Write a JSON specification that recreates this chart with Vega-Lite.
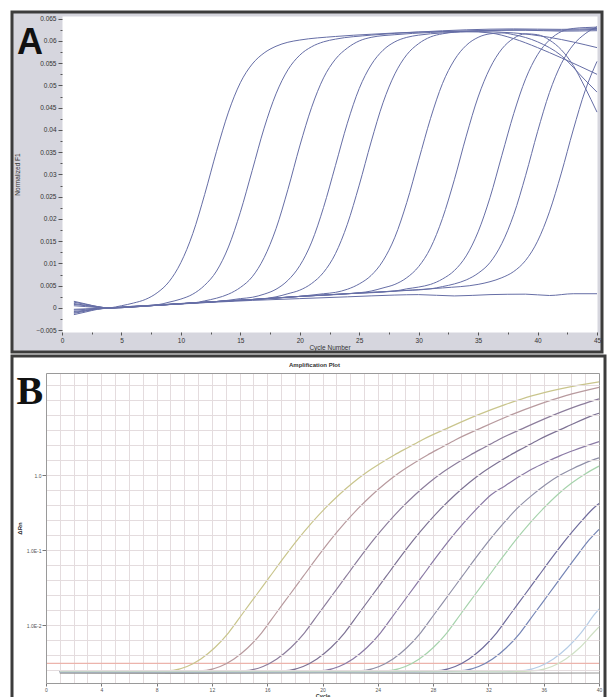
{
"$schema": "https://vega.github.io/schema/vega-lite/v6.json",
"padding": {"left": 10, "top": 10, "right": 0, "bottom": 0},
"background": "white",
"config": {"font": "Liberation Sans", "view": {"stroke": null}, "concat": {"spacing": 0}},
"datasets": {
"a": [
{"s":"1","c":1,"v":-0.0012},{"s":"1","c":2,"v":-0.0007},{"s":"1","c":3,"v":-0.0002},{"s":"1","c":4,"v":0},{"s":"1","c":5,"v":0.0005},{"s":"1","c":6,"v":0.0011},{"s":"1","c":7,"v":0.0019},{"s":"1","c":8,"v":0.0034},{"s":"1","c":9,"v":0.0059},{"s":"1","c":10,"v":0.0102},{"s":"1","c":11,"v":0.0167},{"s":"1","c":12,"v":0.0255},{"s":"1","c":13,"v":0.0352},{"s":"1","c":14,"v":0.044},{"s":"1","c":15,"v":0.0506},{"s":"1","c":16,"v":0.0548},{"s":"1","c":17,"v":0.0573},{"s":"1","c":18,"v":0.0588},{"s":"1","c":19,"v":0.0597},{"s":"1","c":20,"v":0.0602},{"s":"1","c":23,"v":0.061},{"s":"1","c":26,"v":0.0615},{"s":"1","c":30,"v":0.062},{"s":"1","c":34,"v":0.0622},{"s":"1","c":38,"v":0.0625},{"s":"1","c":42,"v":0.0624},{"s":"1","c":45,"v":0.0626},
{"s":"2","c":1,"v":0.001},{"s":"2","c":2,"v":0.0006},{"s":"2","c":3,"v":0.0002},{"s":"2","c":4,"v":0},{"s":"2","c":6,"v":0.0004},{"s":"2","c":8,"v":0.0007},{"s":"2","c":9,"v":0.0013},{"s":"2","c":10,"v":0.002},{"s":"2","c":11,"v":0.0031},{"s":"2","c":12,"v":0.0051},{"s":"2","c":13,"v":0.0083},{"s":"2","c":14,"v":0.0137},{"s":"2","c":15,"v":0.0215},{"s":"2","c":16,"v":0.0309},{"s":"2","c":17,"v":0.0404},{"s":"2","c":18,"v":0.0481},{"s":"2","c":19,"v":0.0535},{"s":"2","c":20,"v":0.0568},{"s":"2","c":21,"v":0.0587},{"s":"2","c":22,"v":0.0598},{"s":"2","c":23,"v":0.0604},{"s":"2","c":26,"v":0.0613},{"s":"2","c":30,"v":0.062},{"s":"2","c":34,"v":0.0625},{"s":"2","c":38,"v":0.0627},{"s":"2","c":42,"v":0.0626},{"s":"2","c":45,"v":0.0628},
{"s":"3","c":1,"v":-0.0005},{"s":"3","c":2,"v":-0.0003},{"s":"3","c":3,"v":-0.0001},{"s":"3","c":4,"v":0},{"s":"3","c":6,"v":0.0003},{"s":"3","c":9,"v":0.0008},{"s":"3","c":11,"v":0.0011},{"s":"3","c":12,"v":0.0016},{"s":"3","c":13,"v":0.0022},{"s":"3","c":14,"v":0.0031},{"s":"3","c":15,"v":0.0046},{"s":"3","c":16,"v":0.007},{"s":"3","c":17,"v":0.0113},{"s":"3","c":18,"v":0.0178},{"s":"3","c":19,"v":0.0266},{"s":"3","c":20,"v":0.0364},{"s":"3","c":21,"v":0.0451},{"s":"3","c":22,"v":0.0517},{"s":"3","c":23,"v":0.0559},{"s":"3","c":24,"v":0.0584},{"s":"3","c":25,"v":0.06},{"s":"3","c":26,"v":0.0608},{"s":"3","c":28,"v":0.0614},{"s":"3","c":31,"v":0.0619},{"s":"3","c":35,"v":0.0623},{"s":"3","c":39,"v":0.0624},{"s":"3","c":42,"v":0.0622},{"s":"3","c":45,"v":0.0623},
{"s":"4","c":1,"v":0.0013},{"s":"4","c":2,"v":0.0008},{"s":"4","c":3,"v":0.0003},{"s":"4","c":4,"v":0},{"s":"4","c":7,"v":0.0005},{"s":"4","c":10,"v":0.001},{"s":"4","c":13,"v":0.0014},{"s":"4","c":15,"v":0.0021},{"s":"4","c":16,"v":0.0024},{"s":"4","c":17,"v":0.0031},{"s":"4","c":18,"v":0.0042},{"s":"4","c":19,"v":0.0062},{"s":"4","c":20,"v":0.0095},{"s":"4","c":21,"v":0.0148},{"s":"4","c":22,"v":0.0226},{"s":"4","c":23,"v":0.032},{"s":"4","c":24,"v":0.0415},{"s":"4","c":25,"v":0.0493},{"s":"4","c":26,"v":0.0546},{"s":"4","c":27,"v":0.0579},{"s":"4","c":28,"v":0.0598},{"s":"4","c":29,"v":0.0608},{"s":"4","c":30,"v":0.0613},{"s":"4","c":32,"v":0.0618},{"s":"4","c":35,"v":0.0621},{"s":"4","c":38,"v":0.0618},{"s":"4","c":41,"v":0.0608},{"s":"4","c":45,"v":0.0585},
{"s":"5","c":1,"v":-0.0015},{"s":"5","c":2,"v":-0.0009},{"s":"5","c":3,"v":-0.0003},{"s":"5","c":4,"v":0},{"s":"5","c":7,"v":0.0005},{"s":"5","c":10,"v":0.001},{"s":"5","c":14,"v":0.0016},{"s":"5","c":17,"v":0.0021},{"s":"5","c":18,"v":0.0025},{"s":"5","c":19,"v":0.0032},{"s":"5","c":20,"v":0.004},{"s":"5","c":21,"v":0.0055},{"s":"5","c":22,"v":0.008},{"s":"5","c":23,"v":0.0122},{"s":"5","c":24,"v":0.0188},{"s":"5","c":25,"v":0.0276},{"s":"5","c":26,"v":0.0373},{"s":"5","c":27,"v":0.0461},{"s":"5","c":28,"v":0.0526},{"s":"5","c":29,"v":0.0569},{"s":"5","c":30,"v":0.0594},{"s":"5","c":31,"v":0.0609},{"s":"5","c":32,"v":0.0616},{"s":"5","c":34,"v":0.0621},{"s":"5","c":36,"v":0.0618},{"s":"5","c":38,"v":0.0605},{"s":"5","c":40,"v":0.0585},{"s":"5","c":42,"v":0.0562},{"s":"5","c":45,"v":0.0525},
{"s":"6","c":1,"v":0.0005},{"s":"6","c":2,"v":0.0003},{"s":"6","c":3,"v":0.0001},{"s":"6","c":4,"v":0},{"s":"6","c":8,"v":0.0006},{"s":"6","c":12,"v":0.0013},{"s":"6","c":16,"v":0.0019},{"s":"6","c":20,"v":0.0026},{"s":"6","c":22,"v":0.0032},{"s":"6","c":23,"v":0.0035},{"s":"6","c":24,"v":0.0042},{"s":"6","c":25,"v":0.0054},{"s":"6","c":26,"v":0.0073},{"s":"6","c":27,"v":0.0106},{"s":"6","c":28,"v":0.0159},{"s":"6","c":29,"v":0.0237},{"s":"6","c":30,"v":0.0332},{"s":"6","c":31,"v":0.0426},{"s":"6","c":32,"v":0.0504},{"s":"6","c":33,"v":0.0557},{"s":"6","c":34,"v":0.059},{"s":"6","c":35,"v":0.0608},{"s":"6","c":36,"v":0.0616},{"s":"6","c":37,"v":0.0618},{"s":"6","c":38,"v":0.0614},{"s":"6","c":40,"v":0.0598},{"s":"6","c":42,"v":0.0567},{"s":"6","c":44,"v":0.0512},{"s":"6","c":45,"v":0.0485},
{"s":"7","c":1,"v":-0.0008},{"s":"7","c":2,"v":-0.0005},{"s":"7","c":3,"v":-0.0002},{"s":"7","c":4,"v":0},{"s":"7","c":8,"v":0.0006},{"s":"7","c":12,"v":0.0013},{"s":"7","c":16,"v":0.0019},{"s":"7","c":20,"v":0.0026},{"s":"7","c":24,"v":0.0032},{"s":"7","c":26,"v":0.0038},{"s":"7","c":27,"v":0.0045},{"s":"7","c":28,"v":0.0053},{"s":"7","c":29,"v":0.0068},{"s":"7","c":30,"v":0.0093},{"s":"7","c":31,"v":0.0135},{"s":"7","c":32,"v":0.0201},{"s":"7","c":33,"v":0.0288},{"s":"7","c":34,"v":0.0386},{"s":"7","c":35,"v":0.0474},{"s":"7","c":36,"v":0.0539},{"s":"7","c":37,"v":0.0582},{"s":"7","c":38,"v":0.0606},{"s":"7","c":39,"v":0.0616},{"s":"7","c":40,"v":0.0614},{"s":"7","c":41,"v":0.0602},{"s":"7","c":42,"v":0.058},{"s":"7","c":43,"v":0.0545},{"s":"7","c":44,"v":0.0495},{"s":"7","c":45,"v":0.044},
{"s":"8","c":1,"v":0.0015},{"s":"8","c":2,"v":0.0009},{"s":"8","c":3,"v":0.0003},{"s":"8","c":4,"v":0},{"s":"8","c":8,"v":0.0006},{"s":"8","c":12,"v":0.0013},{"s":"8","c":16,"v":0.0019},{"s":"8","c":20,"v":0.0026},{"s":"8","c":24,"v":0.0032},{"s":"8","c":28,"v":0.0038},{"s":"8","c":29,"v":0.0043},{"s":"8","c":30,"v":0.0047},{"s":"8","c":31,"v":0.0053},{"s":"8","c":32,"v":0.0065},{"s":"8","c":33,"v":0.0084},{"s":"8","c":34,"v":0.0117},{"s":"8","c":35,"v":0.0171},{"s":"8","c":36,"v":0.0248},{"s":"8","c":37,"v":0.0343},{"s":"8","c":38,"v":0.0437},{"s":"8","c":39,"v":0.0515},{"s":"8","c":40,"v":0.0569},{"s":"8","c":41,"v":0.0602},{"s":"8","c":42,"v":0.0621},{"s":"8","c":43,"v":0.0628},{"s":"8","c":44,"v":0.063},{"s":"8","c":45,"v":0.0631},
{"s":"9","c":1,"v":-0.0003},{"s":"9","c":2,"v":-0.0002},{"s":"9","c":3,"v":-0.0001},{"s":"9","c":4,"v":0},{"s":"9","c":8,"v":0.0006},{"s":"9","c":12,"v":0.0013},{"s":"9","c":16,"v":0.0019},{"s":"9","c":20,"v":0.0026},{"s":"9","c":24,"v":0.0032},{"s":"9","c":28,"v":0.0038},{"s":"9","c":31,"v":0.0043},{"s":"9","c":32,"v":0.0048},{"s":"9","c":33,"v":0.0054},{"s":"9","c":34,"v":0.0063},{"s":"9","c":35,"v":0.0078},{"s":"9","c":36,"v":0.0102},{"s":"9","c":37,"v":0.0145},{"s":"9","c":38,"v":0.021},{"s":"9","c":39,"v":0.0298},{"s":"9","c":40,"v":0.0396},{"s":"9","c":41,"v":0.0484},{"s":"9","c":42,"v":0.0549},{"s":"9","c":43,"v":0.0591},{"s":"9","c":44,"v":0.0616},{"s":"9","c":45,"v":0.0632},
{"s":"10","c":1,"v":0.0008},{"s":"10","c":2,"v":0.0005},{"s":"10","c":3,"v":0.0002},{"s":"10","c":4,"v":0},{"s":"10","c":8,"v":0.0006},{"s":"10","c":12,"v":0.0013},{"s":"10","c":16,"v":0.0019},{"s":"10","c":20,"v":0.0026},{"s":"10","c":24,"v":0.0032},{"s":"10","c":28,"v":0.0038},{"s":"10","c":32,"v":0.0045},{"s":"10","c":35,"v":0.0053},{"s":"10","c":36,"v":0.0059},{"s":"10","c":37,"v":0.0068},{"s":"10","c":38,"v":0.0082},{"s":"10","c":39,"v":0.0107},{"s":"10","c":40,"v":0.015},{"s":"10","c":41,"v":0.0216},{"s":"10","c":42,"v":0.0303},{"s":"10","c":43,"v":0.04},{"s":"10","c":44,"v":0.0488},{"s":"10","c":45,"v":0.0554},
{"s":"ntc","c":1,"v":-0.001},{"s":"ntc","c":2,"v":-0.0006},{"s":"ntc","c":3,"v":-0.0002},{"s":"ntc","c":4,"v":0},{"s":"ntc","c":8,"v":0.0006},{"s":"ntc","c":12,"v":0.0012},{"s":"ntc","c":16,"v":0.0017},{"s":"ntc","c":20,"v":0.0021},{"s":"ntc","c":24,"v":0.0025},{"s":"ntc","c":28,"v":0.0029},{"s":"ntc","c":30,"v":0.003},{"s":"ntc","c":33,"v":0.0027},{"s":"ntc","c":36,"v":0.003},{"s":"ntc","c":39,"v":0.0031},{"s":"ntc","c":41,"v":0.0028},{"s":"ntc","c":43,"v":0.0032},{"s":"ntc","c":45,"v":0.0032}
],
"b": [
{"s":"thr","c":0,"v":0.0031},{"s":"thr","c":40,"v":0.0031},
{"s":"ntc","c":1,"v":0.0023},{"s":"ntc","c":10,"v":0.00228},{"s":"ntc","c":20,"v":0.00232},{"s":"ntc","c":30,"v":0.00229},{"s":"ntc","c":40,"v":0.00231},
{"s":"b1","c":1,"v":0.0024},{"s":"b1","c":7.2,"v":0.0024},{"s":"b1","c":9.2,"v":0.00251},{"s":"b1","c":10.2,"v":0.00282},{"s":"b1","c":11.2,"v":0.00355},{"s":"b1","c":12.2,"v":0.00501},{"s":"b1","c":13.2,"v":0.00794},{"s":"b1","c":14.2,"v":0.01413},{"s":"b1","c":15.2,"v":0.02512},{"s":"b1","c":16.2,"v":0.04467},{"s":"b1","c":17.2,"v":0.07943},{"s":"b1","c":18.2,"v":0.138},{"s":"b1","c":19.2,"v":0.2291},{"s":"b1","c":20.2,"v":0.3631},{"s":"b1","c":21.2,"v":0.5495},{"s":"b1","c":22.2,"v":0.7943},{"s":"b1","c":23.2,"v":1.096},{"s":"b1","c":24.2,"v":1.445},{"s":"b1","c":25.2,"v":1.862},{"s":"b1","c":26.2,"v":2.344},{"s":"b1","c":27.2,"v":2.951},{"s":"b1","c":29.2,"v":4.365},{"s":"b1","c":31.2,"v":6.31},{"s":"b1","c":33.2,"v":8.71},{"s":"b1","c":35.2,"v":11.48},{"s":"b1","c":37.2,"v":14.13},{"s":"b1","c":40,"v":17.5},
{"s":"b2","c":1,"v":0.0024},{"s":"b2","c":9.6,"v":0.0024},{"s":"b2","c":11.6,"v":0.00251},{"s":"b2","c":12.6,"v":0.00282},{"s":"b2","c":13.6,"v":0.00355},{"s":"b2","c":14.6,"v":0.00501},{"s":"b2","c":15.6,"v":0.00794},{"s":"b2","c":16.6,"v":0.01413},{"s":"b2","c":17.6,"v":0.02512},{"s":"b2","c":18.6,"v":0.04467},{"s":"b2","c":19.6,"v":0.07943},{"s":"b2","c":20.6,"v":0.138},{"s":"b2","c":21.6,"v":0.2291},{"s":"b2","c":22.6,"v":0.3631},{"s":"b2","c":23.6,"v":0.5495},{"s":"b2","c":24.6,"v":0.7943},{"s":"b2","c":25.6,"v":1.096},{"s":"b2","c":26.6,"v":1.445},{"s":"b2","c":27.6,"v":1.862},{"s":"b2","c":28.6,"v":2.344},{"s":"b2","c":29.6,"v":2.951},{"s":"b2","c":31.6,"v":4.365},{"s":"b2","c":33.6,"v":6.31},{"s":"b2","c":35.6,"v":8.71},{"s":"b2","c":37.6,"v":11.48},{"s":"b2","c":40,"v":14.8},
{"s":"b3","c":1,"v":0.0024},{"s":"b3","c":12.7,"v":0.0024},{"s":"b3","c":14.7,"v":0.00251},{"s":"b3","c":15.7,"v":0.00282},{"s":"b3","c":16.7,"v":0.00355},{"s":"b3","c":17.7,"v":0.00501},{"s":"b3","c":18.7,"v":0.00794},{"s":"b3","c":19.7,"v":0.01413},{"s":"b3","c":20.7,"v":0.02512},{"s":"b3","c":21.7,"v":0.04467},{"s":"b3","c":22.7,"v":0.07943},{"s":"b3","c":23.7,"v":0.138},{"s":"b3","c":24.7,"v":0.2291},{"s":"b3","c":25.7,"v":0.3631},{"s":"b3","c":26.7,"v":0.5495},{"s":"b3","c":27.7,"v":0.7943},{"s":"b3","c":28.7,"v":1.096},{"s":"b3","c":29.7,"v":1.445},{"s":"b3","c":30.7,"v":1.862},{"s":"b3","c":31.7,"v":2.344},{"s":"b3","c":32.7,"v":2.951},{"s":"b3","c":34.7,"v":4.365},{"s":"b3","c":36.7,"v":6.31},{"s":"b3","c":38.7,"v":8.71},{"s":"b3","c":40,"v":10.4},
{"s":"b4","c":1,"v":0.0024},{"s":"b4","c":15.6,"v":0.0024},{"s":"b4","c":17.6,"v":0.00251},{"s":"b4","c":18.6,"v":0.00282},{"s":"b4","c":19.6,"v":0.00355},{"s":"b4","c":20.6,"v":0.00501},{"s":"b4","c":21.6,"v":0.00794},{"s":"b4","c":22.6,"v":0.01413},{"s":"b4","c":23.6,"v":0.02512},{"s":"b4","c":24.6,"v":0.04467},{"s":"b4","c":25.6,"v":0.07943},{"s":"b4","c":26.6,"v":0.138},{"s":"b4","c":27.6,"v":0.2291},{"s":"b4","c":28.6,"v":0.3631},{"s":"b4","c":29.6,"v":0.5495},{"s":"b4","c":30.6,"v":0.7943},{"s":"b4","c":31.6,"v":1.096},{"s":"b4","c":32.6,"v":1.445},{"s":"b4","c":33.6,"v":1.862},{"s":"b4","c":34.6,"v":2.344},{"s":"b4","c":35.6,"v":2.951},{"s":"b4","c":37.6,"v":4.365},{"s":"b4","c":39.6,"v":6.31},{"s":"b4","c":40,"v":6.7},
{"s":"b5","c":1,"v":0.0024},{"s":"b5","c":18.2,"v":0.0024},{"s":"b5","c":20.2,"v":0.00251},{"s":"b5","c":21.2,"v":0.00282},{"s":"b5","c":22.2,"v":0.00355},{"s":"b5","c":23.2,"v":0.00501},{"s":"b5","c":24.2,"v":0.00794},{"s":"b5","c":25.2,"v":0.01413},{"s":"b5","c":26.2,"v":0.02512},{"s":"b5","c":27.2,"v":0.04467},{"s":"b5","c":28.2,"v":0.07943},{"s":"b5","c":29.2,"v":0.138},{"s":"b5","c":30.2,"v":0.2291},{"s":"b5","c":31.2,"v":0.3631},{"s":"b5","c":32.2,"v":0.5495},{"s":"b5","c":33.2,"v":0.72},{"s":"b5","c":34.2,"v":0.95},{"s":"b5","c":35.2,"v":1.22},{"s":"b5","c":36.2,"v":1.5},{"s":"b5","c":37.2,"v":1.82},{"s":"b5","c":38.2,"v":2.15},{"s":"b5","c":40,"v":2.8},
{"s":"b6","c":1,"v":0.0024},{"s":"b6","c":21.1,"v":0.0024},{"s":"b6","c":23.1,"v":0.00251},{"s":"b6","c":24.1,"v":0.00282},{"s":"b6","c":25.1,"v":0.00355},{"s":"b6","c":26.1,"v":0.00501},{"s":"b6","c":27.1,"v":0.00794},{"s":"b6","c":28.1,"v":0.01413},{"s":"b6","c":29.1,"v":0.02512},{"s":"b6","c":30.1,"v":0.04467},{"s":"b6","c":31.1,"v":0.07943},{"s":"b6","c":32.1,"v":0.138},{"s":"b6","c":33.1,"v":0.2291},{"s":"b6","c":34.1,"v":0.3631},{"s":"b6","c":35.1,"v":0.53},{"s":"b6","c":36.1,"v":0.74},{"s":"b6","c":37.1,"v":0.98},{"s":"b6","c":38.1,"v":1.22},{"s":"b6","c":39.1,"v":1.48},{"s":"b6","c":40,"v":1.7},
{"s":"b7","c":1,"v":0.0024},{"s":"b7","c":23,"v":0.0024},{"s":"b7","c":25,"v":0.00251},{"s":"b7","c":26,"v":0.00282},{"s":"b7","c":27,"v":0.00355},{"s":"b7","c":28,"v":0.00501},{"s":"b7","c":29,"v":0.00794},{"s":"b7","c":30,"v":0.01413},{"s":"b7","c":31,"v":0.02512},{"s":"b7","c":32,"v":0.04467},{"s":"b7","c":33,"v":0.07943},{"s":"b7","c":34,"v":0.138},{"s":"b7","c":35,"v":0.2291},{"s":"b7","c":36,"v":0.3631},{"s":"b7","c":37,"v":0.5495},{"s":"b7","c":38,"v":0.78},{"s":"b7","c":39,"v":1.04},{"s":"b7","c":40,"v":1.32},
{"s":"b8","c":1,"v":0.0024},{"s":"b8","c":26.6,"v":0.0024},{"s":"b8","c":28.6,"v":0.00251},{"s":"b8","c":29.6,"v":0.00282},{"s":"b8","c":30.6,"v":0.00355},{"s":"b8","c":31.6,"v":0.00501},{"s":"b8","c":32.6,"v":0.00794},{"s":"b8","c":33.6,"v":0.01413},{"s":"b8","c":34.6,"v":0.02512},{"s":"b8","c":35.6,"v":0.04467},{"s":"b8","c":36.6,"v":0.07943},{"s":"b8","c":37.6,"v":0.138},{"s":"b8","c":38.6,"v":0.2291},{"s":"b8","c":39.6,"v":0.3631},{"s":"b8","c":40,"v":0.42},
{"s":"b9","c":1,"v":0.0024},{"s":"b9","c":28.3,"v":0.0024},{"s":"b9","c":30.3,"v":0.00251},{"s":"b9","c":31.3,"v":0.00282},{"s":"b9","c":32.3,"v":0.00355},{"s":"b9","c":33.3,"v":0.00501},{"s":"b9","c":34.3,"v":0.00794},{"s":"b9","c":35.3,"v":0.01413},{"s":"b9","c":36.3,"v":0.02512},{"s":"b9","c":37.3,"v":0.04467},{"s":"b9","c":38.3,"v":0.07943},{"s":"b9","c":39.3,"v":0.138},{"s":"b9","c":40,"v":0.19},
{"s":"b10","c":1,"v":0.0024},{"s":"b10","c":32.7,"v":0.0024},{"s":"b10","c":34.7,"v":0.00251},{"s":"b10","c":35.7,"v":0.00282},{"s":"b10","c":36.7,"v":0.00355},{"s":"b10","c":37.7,"v":0.00501},{"s":"b10","c":38.7,"v":0.00794},{"s":"b10","c":39.7,"v":0.01413},{"s":"b10","c":40,"v":0.0165},
{"s":"b11","c":1,"v":0.0024},{"s":"b11","c":33.6,"v":0.0024},{"s":"b11","c":35.6,"v":0.00251},{"s":"b11","c":36.6,"v":0.00282},{"s":"b11","c":37.6,"v":0.00355},{"s":"b11","c":38.6,"v":0.00501},{"s":"b11","c":39.6,"v":0.00794},{"s":"b11","c":40,"v":0.0095}
]
},
"vconcat": [
{
"title": {"text": "A", "anchor": "start", "frame": "bounds", "font": "Liberation Sans", "fontSize": 36, "fontWeight": "bold", "color": "#111111", "dx": 5, "dy": 50, "offset": 0},
"width": 590, "height": 340,
"view": {"fill": "#d6d6de", "stroke": "#3c3c3c", "strokeWidth": 3},
"data": {"name": "a"},
"layer": [
{
"transform": [{"filter": "datum.s != 'ntc'"}],
"mark": {"type": "line", "interpolate": "monotone", "strokeWidth": 1, "color": "#666ea6", "clip": true},
"encoding": {
"x": {"field": "c", "type": "quantitative", "scale": {"domain": [0, 45], "nice": false, "range": [50, 585]},
 "axis": {"orient": "bottom", "title": null, "labels": false, "ticks": false, "grid": false, "domain": true, "offset": -178, "domainWidth": 316, "domainColor": "#ffffff", "zindex": 0}},
"y": {"field": "v", "type": "quantitative", "scale": {"domain": [-0.0054, 0.0656], "nice": false, "zero": false, "range": [320, 4]}, "axis": null},
"detail": {"field": "s"}
}
},
{
"transform": [{"filter": "datum.s == 'ntc'"}],
"mark": {"type": "line", "interpolate": "monotone", "strokeWidth": 1, "color": "#666ea6", "clip": true},
"encoding": {
"x": {"field": "c", "type": "quantitative", "scale": {"domain": [0, 45], "nice": false, "range": [50, 585]},
 "axis": {"orient": "bottom", "offset": -20, "title": "Cycle Number", "values": [0,2.5,5,7.5,10,12.5,15,17.5,20,22.5,25,27.5,30,32.5,35,37.5,40,42.5,45], "labelExpr": "datum.value % 5 == 0 ? datum.label : ''", "grid": false, "domain": false, "ticks": true, "tickColor": "#555555", "tickSize": {"condition": {"test": "datum.value % 5 == 0", "value": 3}, "value": 2}, "labelPadding": 2, "labelFontSize": 6.5, "labelColor": "#333333", "labelOverlap": false, "labelFlush": false, "titleFontSize": 6.5, "titleFontWeight": "normal", "titleColor": "#333333", "titlePadding": 1, "zindex": 1}},
"y": {"field": "v", "type": "quantitative", "scale": {"domain": [-0.0054, 0.0656], "nice": false, "zero": false, "range": [320, 4]},
 "axis": {"orient": "left", "offset": -50, "title": "Normalized F1", "values": [-0.005,-0.0025,0,0.0025,0.005,0.0075,0.01,0.0125,0.015,0.0175,0.02,0.0225,0.025,0.0275,0.03,0.0325,0.035,0.0375,0.04,0.0425,0.045,0.0475,0.05,0.0525,0.055,0.0575,0.06,0.0625,0.065], "format": "~g", "labelExpr": "abs(datum.value * 200 - round(datum.value * 200)) < 0.01 ? datum.label : ''", "grid": false, "domain": false, "ticks": true, "tickColor": "#555555", "tickSize": {"condition": {"test": "abs(datum.value * 200 - round(datum.value * 200)) < 0.01", "value": 4}, "value": 2}, "labelPadding": 2, "labelFontSize": 6.5, "labelColor": "#333333", "labelOverlap": false, "labelFlush": false, "titleFontSize": 6.5, "titleFontWeight": "normal", "titleColor": "#333333", "titlePadding": 15, "zindex": 1}},
"detail": {"field": "s"}
}
}
],
"resolve": {"axis": {"x": "independent", "y": "independent"}}
},
{
"title": {"text": "B", "anchor": "start", "frame": "bounds", "font": "Liberation Serif", "fontSize": 40, "fontWeight": "bold", "color": "#111111", "dx": 6, "dy": 57, "offset": 0},
"vconcat": [
{
"title": {"text": "Amplification Plot", "fontSize": 6, "fontWeight": "bold", "color": "#333333", "offset": 0, "dy": 12, "dx": 6, "anchor": "middle"},
"width": 593, "height": 344,
"view": {"fill": "#ffffff", "stroke": "#3c3c3c", "strokeWidth": 3},
"data": {"name": "b"},
"layer": [
{
"transform": [{"filter": "false"}],
"mark": {"type": "line", "clip": true},
"encoding": {
"x": {"field": "c", "type": "quantitative", "scale": {"domain": [0, 40], "nice": false, "range": [34, 587]},
 "axis": {"orient": "top", "offset": -17, "title": null, "labels": false, "ticks": false, "grid": false, "domain": true, "domainColor": "#9a9a9a", "domainWidth": 1}},
"y": {"field": "v", "type": "quantitative", "scale": {"type": "log", "domain": [0.0017, 23], "nice": false, "zero": false, "range": [327, 17]},
 "axis": {"orient": "right", "offset": -6, "title": null, "labels": false, "ticks": false, "grid": false, "domain": true, "domainColor": "#9a9a9a", "domainWidth": 1}}
}
},
{
"mark": {"type": "line", "interpolate": "monotone", "strokeWidth": 1.2, "clip": true},
"encoding": {
"x": {"field": "c", "type": "quantitative", "scale": {"domain": [0, 40], "nice": false, "range": [34, 587]},
 "axis": {"orient": "bottom", "offset": -17, "title": "Cycle", "values": [0,1,2,3,4,5,6,7,8,9,10,11,12,13,14,15,16,17,18,19,20,21,22,23,24,25,26,27,28,29,30,31,32,33,34,35,36,37,38,39,40], "labelExpr": "datum.value % 4 == 0 ? datum.label : ''", "grid": true, "gridColor": "#e4dcde", "gridWidth": 1, "domain": true, "domainColor": "#9a9a9a", "domainWidth": 1, "tickSize": 3, "tickColor": "#777777", "tickOpacity": {"condition": {"test": "datum.value % 4 == 0", "value": 1}, "value": 0}, "labelFontSize": 5, "labelColor": "#555555", "labelPadding": 1, "labelOverlap": false, "labelFlush": false, "titleFontSize": 5.5, "titleFontWeight": "bold", "titleColor": "#333333", "titlePadding": 1}},
"y": {"field": "v", "type": "quantitative", "scale": {"type": "log", "domain": [0.0017, 23], "nice": false, "zero": false, "range": [327, 17]},
 "axis": {"orient": "left", "offset": -34, "title": "ΔRn", "values": [0.002512,0.003981,0.00631,0.01,0.01585,0.02512,0.03981,0.0631,0.1,0.1585,0.2512,0.3981,0.631,1,1.585,2.512,3.981,6.31,10,15.85], "labelExpr": "datum.value == 1 ? '1.0' : datum.value == 0.1 ? '1.0E-1' : datum.value == 0.01 ? '1.0E-2' : ''", "grid": true, "gridColor": "#e4dcde", "gridWidth": 1, "domain": true, "domainColor": "#9a9a9a", "domainWidth": 1, "tickSize": 4, "tickColor": "#777777", "tickOpacity": {"condition": {"test": "datum.value == 1 || datum.value == 0.1 || datum.value == 0.01", "value": 1}, "value": 0}, "labelFontSize": 5, "labelColor": "#555555", "labelPadding": 1, "labelOverlap": false, "labelFlush": false, "titleFontSize": 6, "titleFontWeight": "bold", "titleColor": "#222222", "titlePadding": 4, "zindex": 1}},
"color": {"field": "s", "type": "nominal", "legend": null,
 "scale": {"domain": ["thr","ntc","b1","b2","b3","b4","b5","b6","b7","b8","b9","b10","b11"],
 "range": ["#ecb4ac","#9a9a9a","#c9c58c","#b89a9e","#8c7d9c","#7d7294","#8a7aa5","#9090a8","#a6d3ac","#6f6c9c","#7585b5","#b6cde6","#cfe0c4"]}}
}
}
],
"resolve": {"axis": {"x": "independent", "y": "independent"}}
}
]
}
]
}
